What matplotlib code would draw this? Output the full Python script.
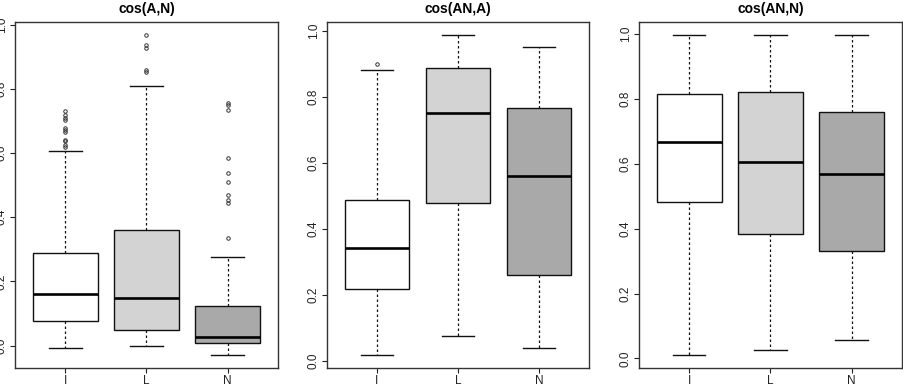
import matplotlib
matplotlib.use("Agg")
import matplotlib.pyplot as plt

plt.rcParams['font.family'] = ['Liberation Sans', 'DejaVu Sans']

groups = ['I', 'L', 'N']
colors = ['#FFFFFF', '#D3D3D3', '#A9A9A9']
titles = ['cos(A,N)', 'cos(AN,A)', 'cos(AN,N)']

# (lower whisker, q1, median, q3, upper whisker) per group
stats_an = [(-0.009, 0.077, 0.162, 0.289, 0.605),
            (-0.002, 0.047, 0.149, 0.361, 0.808),
            (-0.029, 0.009, 0.027, 0.122, 0.277)]
fliers_an = [[0.732, 0.719, 0.71, 0.704, 0.677, 0.670, 0.665, 0.641, 0.636, 0.625, 0.618],
             [0.969, 0.935, 0.928, 0.859, 0.852],
             [0.755, 0.750, 0.734, 0.585, 0.539, 0.510, 0.468, 0.452, 0.445, 0.336]]

stats_ana = [(0.018, 0.218, 0.342, 0.488, 0.881),
             (0.075, 0.480, 0.752, 0.889, 0.990),
             (0.039, 0.259, 0.560, 0.767, 0.952)]
fliers_ana = [[0.900], [], []]

stats_ann = [(0.011, 0.483, 0.666, 0.815, 0.998),
             (0.026, 0.384, 0.606, 0.822, 0.998),
             (0.057, 0.330, 0.567, 0.758, 0.998)]
fliers_ann = [[], [], []]

panels = [(stats_an, fliers_an), (stats_ana, fliers_ana), (stats_ann, fliers_ann)]
# left, right pixel edges of each plot region
lefts = [15, 326.7, 638.7]
rights = [278, 589.3, 902]

W, H = 904, 390
fig = plt.figure(figsize=(W / 100, H / 100), dpi=100)

for k, (st, fl) in enumerate(panels):
    ax = fig.add_axes([lefts[k] / W, 1 - 367.7 / H, (rights[k] - lefts[k]) / W, (367.7 - 21.7) / H])
    bxps = []
    for j, s in enumerate(st):
        bxps.append(dict(whislo=s[0], q1=s[1], med=s[2], q3=s[3], whishi=s[4], fliers=fl[j]))
    bp = ax.bxp(bxps, positions=[1, 2, 3], widths=0.8, patch_artist=True,
                showfliers=True,
                boxprops=dict(edgecolor='#111111', linewidth=1.0),
                medianprops=dict(color='black', linewidth=1.9),
                whiskerprops=dict(color='#111111', linestyle=(0, (2, 2)), linewidth=0.9),
                capprops=dict(color='#111111', linewidth=1),
                flierprops=dict(marker='o', markersize=2.5, markerfacecolor='none',
                                markeredgecolor='#333333', markeredgewidth=0.7))
    for patch, c in zip(bp['boxes'], colors):
        patch.set_facecolor(c)
    for cap in bp['caps']:
        x0, x1 = cap.get_xdata()
        xc = (x0 + x1) / 2
        cap.set_xdata([xc - 0.2, xc + 0.2])

    lo = min(min(s[0] for s in st), min([v for f in fl for v in f] or [1]))
    hi = max(max(s[4] for s in st), max([v for f in fl for v in f] or [0]))
    pad = 0.04 * (hi - lo)
    ax.set_ylim(lo - pad, hi + pad)
    ax.set_xlim(0.5 - 0.12, 3.5 + 0.12)

    ax.set_xticks([1, 2, 3])
    ax.set_xticklabels(groups)
    ax.set_yticks([0.0, 0.2, 0.4, 0.6, 0.8, 1.0])
    ax.set_yticklabels(['0.0', '0.2', '0.4', '0.6', '0.8', '1.0'], rotation=90, va='center')
    ax.tick_params(axis='both', length=3.6, width=0.8, labelsize=8.5, colors='#222222', pad=1.5)
    for sp in ax.spines.values():
        sp.set_linewidth(1.0)
        sp.set_color('#333333')
    ax.set_title(titles[k], fontsize=10, fontweight='bold', pad=6)

fig.savefig('out.png', dpi=100)
